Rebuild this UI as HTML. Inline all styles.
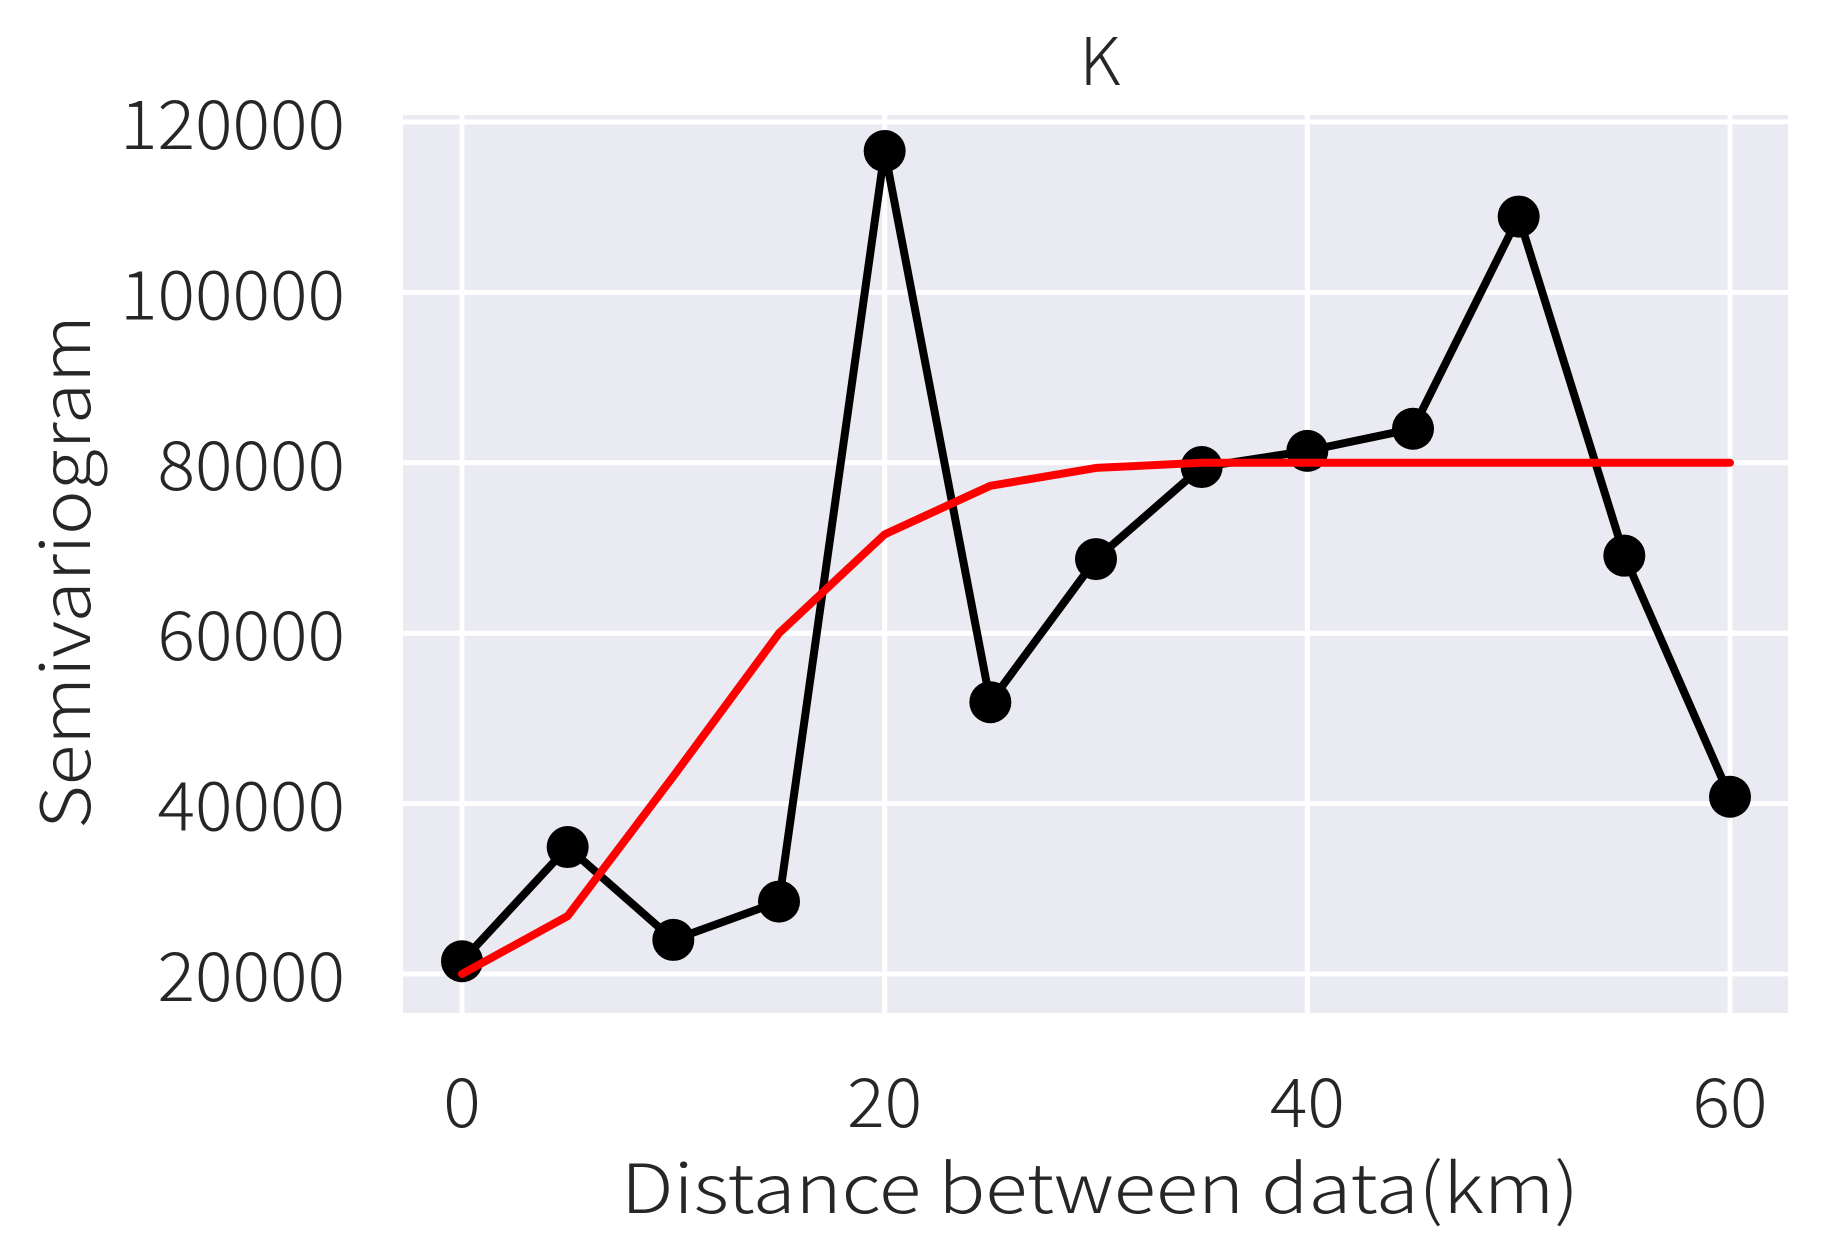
<!DOCTYPE html>
<html><head><meta charset="utf-8"><style>
body{margin:0;background:#fff}
svg text{font-family:"Noto Sans CJK JP","Liberation Sans",sans-serif;font-weight:300;fill:#262626}
</style></head><body>
<svg id="chart" width="1822" height="1253" viewBox="0 0 1822 1253" xmlns="http://www.w3.org/2000/svg">
<rect x="403" y="115" width="1385" height="898" fill="#eaeaf2"/>
<g id="grid"></g>
<g id="ticks"></g>
<text x="1100" y="85" font-size="66" text-anchor="middle">K</text>
<text x="1100" y="1213" font-size="68" text-anchor="middle" textLength="958" lengthAdjust="spacingAndGlyphs">Distance between data(km)</text>
<text transform="translate(90,572) rotate(-90)" font-size="68" text-anchor="middle" textLength="514" lengthAdjust="spacingAndGlyphs">Semivariogram</text>
<g id="series"></g>
</svg>
<script>
const distances=[0,5,10,15,20,25,30,35,40,45,50,55,60];
const observed=[21500,34900,24000,28500,116600,51900,68700,79500,81400,84000,108900,69100,40800];
const model=[20000,26800,43200,60000,71600,77300,79400,80000,80000,80000,80000,80000,80000];
const xTicks=[0,20,40,60];
const yTicks=[20000,40000,60000,80000,100000,120000];
const NS='http://www.w3.org/2000/svg';
function X(v){return 462+(v-0)*(1730-462)/60;}
function Y(v){return 974-(v-20000)*(974-122)/100000;}
function mk(tag,attrs,parent){const e=document.createElementNS(NS,tag);for(const k in attrs)e.setAttribute(k,attrs[k]);parent.appendChild(e);return e;}
const grid=document.getElementById('grid'),ticks=document.getElementById('ticks'),series=document.getElementById('series');
yTicks.forEach(t=>{
 const l=mk('line',{x1:403,x2:1788,y1:Y(t),y2:Y(t),stroke:'#fff','stroke-width':5},grid);
 
 
 const s=String(t);
 const tx=mk('text',{x:345,y:Y(t)+27,'font-size':68,'text-anchor':'end',textLength:s.length*37.5,lengthAdjust:'spacingAndGlyphs'},ticks);
 tx.textContent=s;
 
 
});
xTicks.forEach(t=>{
 const l=mk('line',{x1:X(t),x2:X(t),y1:115,y2:1013,stroke:'#fff','stroke-width':5},grid);
 
 
 const s=String(t);
 const tx=mk('text',{x:X(t),y:1127,'font-size':68,'text-anchor':'middle',textLength:s.length*37.5,lengthAdjust:'spacingAndGlyphs'},ticks);
 tx.textContent=s;
 
 
});
const obsLine=mk('polyline',{points:distances.map((d,i)=>X(d)+','+Y(observed[i])).join(' '),fill:'none',stroke:'#000','stroke-width':8,'stroke-linejoin':'round'},series);


distances.forEach((d,i)=>{
 const c=mk('circle',{cx:X(d),cy:Y(observed[i]),r:21,fill:'#000'},series);
 
 
});
const modLine=mk('polyline',{points:distances.map((d,i)=>X(d)+','+Y(model[i])).join(' '),fill:'none',stroke:'#ff0000','stroke-width':8,'stroke-linejoin':'round','stroke-linecap':'round'},series);


</script>
</body></html>
